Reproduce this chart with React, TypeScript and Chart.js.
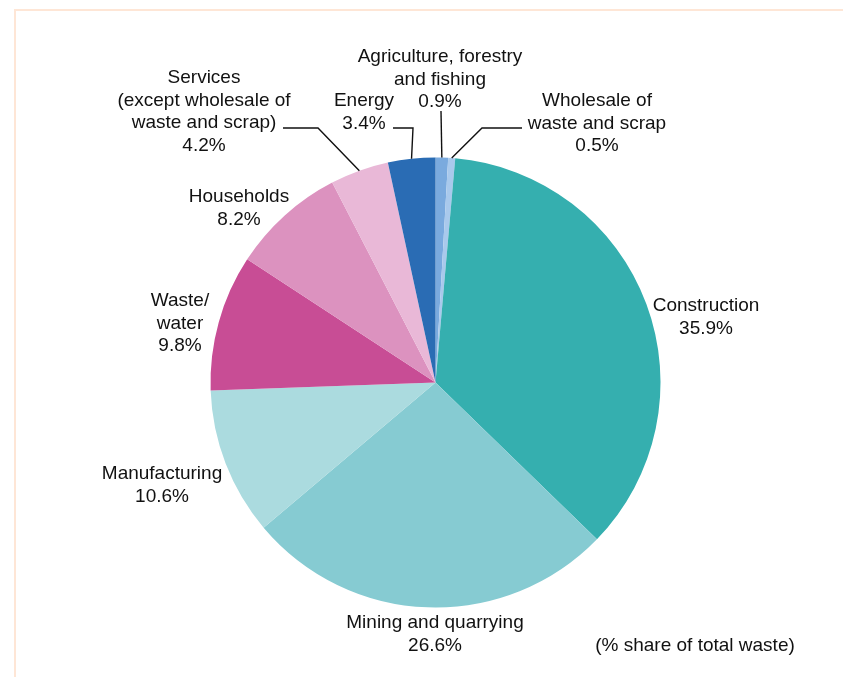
import React, { useEffect, useRef } from "react";
import { Chart, registerables } from "chart.js";

Chart.register(...registerables);

// ---- data ----
const categories: string[] = [
  "Agriculture, forestry\nand fishing",
  "Wholesale of\nwaste and scrap",
  "Construction",
  "Mining and quarrying",
  "Manufacturing",
  "Waste/\nwater",
  "Households",
  "Services\n(except wholesale of\nwaste and scrap)",
  "Energy",
];
const shares: number[] = [0.9, 0.5, 35.9, 26.6, 10.6, 9.8, 8.2, 4.2, 3.4];
const colors: string[] = [
  "#7aaade",
  "#a9c9ec",
  "#35afaf",
  "#86cbd2",
  "#abdbdf",
  "#c84d95",
  "#dc92bf",
  "#e9b8d7",
  "#2a6cb4",
];
const note = "(% share of total waste)";

// ---- label layout (centre of first text line, optional leader elbows) ----
type Lay = { x: number; y: number; leader?: number[][] };
const labelLayout: Lay[] = [
  { x: 440, y: 57, leader: [[441, 111]] },
  { x: 597, y: 101, leader: [[522, 128], [482, 128]] },
  { x: 706, y: 306 },
  { x: 435, y: 623 },
  { x: 162, y: 474 },
  { x: 180, y: 301 },
  { x: 239, y: 197 },
  { x: 204, y: 78, leader: [[283, 128], [318, 128]] },
  { x: 364, y: 101, leader: [[393, 128], [413, 128]] },
];
const LINE_H = 22.6;
const FONT = '19px "Liberation Sans", Arial, sans-serif';

const labelPlugin = {
  id: "pieLabels",
  afterDraw(chart: any) {
    const ctx = chart.ctx;
    const meta = chart.getDatasetMeta(0);
    ctx.save();
    ctx.font = FONT;
    ctx.fillStyle = "#111";
    ctx.textAlign = "center";
    ctx.textBaseline = "middle";
    ctx.strokeStyle = "#111";
    ctx.lineWidth = 1.4;
    meta.data.forEach((arc: any, i: number) => {
      const lay = labelLayout[i];
      const lines = categories[i].split("\n").concat([shares[i].toFixed(1) + "%"]);
      lines.forEach((t, k) => ctx.fillText(t, lay.x, lay.y + k * LINE_H));
      if (lay.leader) {
        const p = arc.getProps(["x", "y", "startAngle", "endAngle", "outerRadius"], true);
        const mid = (p.startAngle + p.endAngle) / 2;
        const ex = p.x + Math.cos(mid) * p.outerRadius;
        const ey = p.y + Math.sin(mid) * p.outerRadius;
        ctx.beginPath();
        ctx.moveTo(lay.leader[0][0], lay.leader[0][1]);
        for (let k = 1; k < lay.leader.length; k++) ctx.lineTo(lay.leader[k][0], lay.leader[k][1]);
        ctx.lineTo(ex, ey);
        ctx.stroke();
      }
    });
    ctx.fillText(note, 695, 646);
    ctx.restore();
  },
};

export default function App() {
  const ref = useRef<HTMLCanvasElement>(null);
  useEffect(() => {
    if (!ref.current) return;
    const chart = new Chart(ref.current, {
      type: "pie",
      data: {
        labels: categories,
        datasets: [
          {
            data: shares,
            backgroundColor: colors,
            borderWidth: 0,
          },
        ],
      },
      options: {
        responsive: false,
        animation: false,
        layout: { padding: { left: 210.5, right: 182.5, top: 157.5, bottom: 69.5 } },
        plugins: {
          legend: { display: false },
          tooltip: { enabled: false },
        },
      },
      plugins: [labelPlugin],
    });
    return () => chart.destroy();
  }, []);
  return (
    <div style={{ position: "absolute", left: 0, top: 0, width: 843, height: 677, background: "#fff" }}>
      <div
        style={{
          position: "absolute",
          left: 14,
          top: 9,
          right: 0,
          bottom: 0,
          borderTop: "2px solid #fee6d6",
          borderLeft: "2px solid #fee6d6",
        }}
      />
      <canvas ref={ref} width={843} height={677} style={{ position: "absolute", left: 0, top: 0 }} />
    </div>
  );
}
